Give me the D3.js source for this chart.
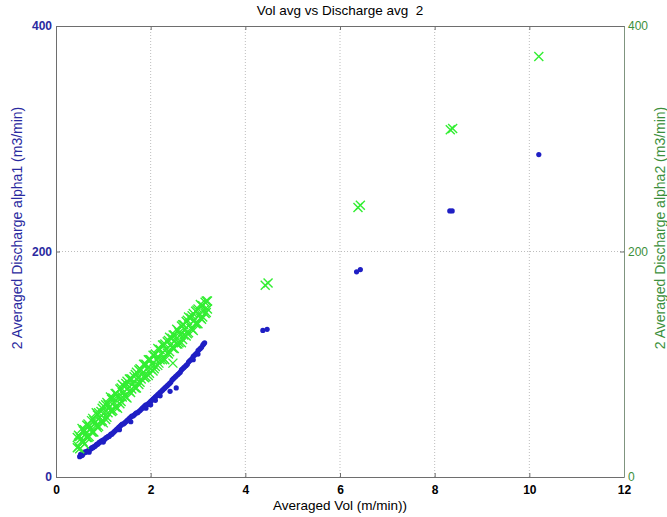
<!DOCTYPE html>
<html>
<head>
<meta charset="utf-8">
<script src="https://cdn.jsdelivr.net/npm/d3@7"></script>
<style>
  body { margin: 0; background: #fff; }
  text { font-family: "Liberation Sans", Arial, sans-serif; }
</style>
</head>
<body>
<div id="chart"></div>
<script>
var xTicks = [0, 2, 4, 6, 8, 10, 12];
var yTicks = [0, 200, 400];

// alpha1 (left axis) - blue dots, [vol, discharge]
var alpha1 = [
  [0.50,18],[0.52,20],[0.55,19],[0.58,21],[0.60,22],[0.63,22],[0.66,23],[0.70,24],[0.70,22],[0.73,25],
  [0.76,26],[0.80,27],[0.84,28],[0.88,29],[0.92,31],[0.96,32],[1.00,33],[1.00,31],[1.04,34],[1.08,35],
  [1.12,36],[1.16,38],[1.20,39],[1.25,41],[1.30,43],[1.34,42],[1.35,45],[1.40,47],[1.45,48],[1.50,50],
  [1.55,52],[1.58,49],[1.60,54],[1.65,55],[1.70,57],[1.75,58],[1.80,60],[1.85,62],[1.90,64],[1.90,61],
  [1.95,65],[2.00,67],[2.00,64],[2.05,69],[2.10,71],[2.10,68],[2.15,73],[2.20,75],[2.20,72],[2.25,77],
  [2.30,79],[2.35,81],[2.40,83],[2.41,76],[2.45,86],[2.50,88],[2.54,79],[2.55,90],[2.60,92],[2.65,95],
  [2.70,97],[2.75,99],[2.80,102],[2.85,104],[2.90,107],[2.90,104],[2.95,109],[3.00,112],[3.00,109],[3.05,114],
  [3.10,117],[3.14,119],
  [0.515,19],[0.565,20],[0.615,22],[0.68,23],[0.745,25],[0.78,26],[0.82,27],[0.86,29],[0.90,30],[0.94,31],
  [0.98,32],[1.02,33],[1.06,35],[1.10,36],[1.14,37],[1.18,38],[1.225,40],[1.275,42],[1.325,44],[1.375,46],
  [1.425,47],[1.475,49],[1.525,51],[1.575,53],[1.625,54],[1.675,56],[1.725,57],[1.775,59],[1.825,61],[1.875,63],
  [1.925,64],[1.975,66],[2.025,68],[2.075,70],[2.125,72],[2.175,74],[2.225,76],[2.275,78],[2.325,80],[2.375,82],
  [2.425,84],[2.475,87],[2.525,89],[2.575,91],[2.625,93],[2.675,96],[2.725,98],[2.775,100],[2.825,103],[2.875,105],
  [2.925,108],[2.975,110],[3.025,113],[3.075,115],[3.12,118],
  [4.37,130],[4.46,131],[6.35,182],[6.43,184],[8.32,236],[8.37,236],[10.20,286]
];

// alpha2 (right axis) - green crosses, [vol, discharge]
var alpha2 = [
  [0.45,35],[0.45,26],[0.50,36],[0.50,25],[0.55,43],[0.55,32],[0.60,42],[0.60,29],[0.65,46],[0.65,35],
  [0.70,45],[0.70,36],[0.75,50],[0.75,40],[0.80,50],[0.80,40],[0.85,57],[0.85,46],[0.90,57],[0.90,45],
  [0.95,58],[0.95,49],[1.00,63],[1.00,48],[1.05,64],[1.05,51],[1.10,64],[1.10,57],[1.15,71],[1.15,59],
  [1.20,70],[1.20,59],[1.25,74],[1.25,62],[1.30,72],[1.30,61],[1.35,78],[1.35,65],[1.40,82],[1.40,71],
  [1.45,80],[1.45,72],[1.50,85],[1.50,70],[1.55,87],[1.55,76],[1.60,87],[1.60,78],[1.65,89],[1.65,80],
  [1.70,93],[1.70,79],[1.75,95],[1.75,82],[1.80,95],[1.80,87],[1.85,100],[1.85,89],[1.90,100],[1.90,89],
  [1.95,104],[1.95,90],[2.00,104],[2.00,96],[2.05,108],[2.05,94],[2.10,109],[2.10,98],[2.15,114],[2.15,99],
  [2.20,113],[2.20,104],[2.25,117],[2.25,104],[2.30,118],[2.30,104],[2.35,120],[2.35,110],[2.40,124],[2.40,111],
  [2.45,123],[2.45,115],[2.50,126],[2.50,114],[2.55,131],[2.55,118],[2.60,128],[2.60,119],[2.65,134],[2.65,119],
  [2.70,135],[2.70,126],[2.75,138],[2.75,125],[2.80,142],[2.80,128],[2.85,141],[2.85,132],[2.90,145],[2.90,130],
  [2.95,147],[2.95,136],[3.00,149],[3.00,136],[3.05,153],[3.05,141],[3.10,152],[3.10,142],[3.15,155],[3.15,145],
  [3.20,156],[3.20,149],
  [0.525,34],[0.625,38],[0.725,43],[0.825,48],[0.925,53],[1.025,57],[1.125,62],[1.225,66],[1.325,71],[1.425,75],
  [1.525,79],[1.625,83],[1.725,88],[1.825,92],[1.925,96],[2.025,100],[2.125,104],[2.225,109],[2.325,113],[2.425,117],
  [2.525,122],[2.625,126],[2.725,131],[2.825,135],[2.925,139],[3.025,144],[3.125,148],
  [0.475,37],[0.475,27],[0.575,41],[0.575,31],[0.675,47],[0.675,35],[0.775,52],[0.775,40],[0.875,55],[0.875,44],
  [0.975,61],[0.975,50],[1.075,66],[1.075,53],[1.175,69],[1.175,58],[1.275,74],[1.275,62],[1.375,79],[1.375,67],
  [1.475,83],[1.475,71],[1.575,87],[1.575,75],[1.675,91],[1.675,79],[1.775,96],[1.775,84],[1.875,100],[1.875,88],
  [1.975,104],[1.975,92],[2.075,108],[2.075,96],[2.175,113],[2.175,101],[2.275,117],[2.275,105],[2.375,121],[2.375,109],
  [2.475,126],[2.475,114],[2.575,130],[2.575,118],[2.675,135],[2.675,122],[2.775,139],[2.775,127],[2.875,143],[2.875,131],
  [2.975,148],[2.975,136],[3.075,152],[3.075,140],[3.175,156],[3.175,146],
  [2.47,101],
  [4.42,170],[4.48,172],[6.38,239],[6.43,241],[8.33,308],[8.38,309],[10.20,373]
];

var blueCol = "#1f1fc4",
    greenCol = "#33ee33",
    leftTxt = "#2a2aa0",
    rightTxt = "#3c8f3c";

var margin = {top: 26, right: 43, bottom: 40, left: 56},
    width = 667 - margin.left - margin.right,
    height = 517 - margin.top - margin.bottom;

var svg = d3.select("#chart")
  .append("svg")
    .attr("width", 667)
    .attr("height", 517)
  .append("g")
    .attr("transform", "translate(" + margin.left + "," + margin.top + ")");

var x = d3.scaleLinear().domain([0, 12]).range([0, width]);
var y1 = d3.scaleLinear().domain([0, 400]).range([height, 0]);
var y2 = d3.scaleLinear().domain([0, 400]).range([height, 0]);

// dotted grid
svg.append("g").selectAll("line")
  .data(xTicks.filter(function(d) { return d > 0 && d < 12; }))
  .enter().append("line")
    .attr("x1", function(d) { return x(d); })
    .attr("x2", function(d) { return x(d); })
    .attr("y1", 0).attr("y2", height)
    .attr("stroke", "#bdbdbd")
    .attr("stroke-dasharray", "1,2");

svg.append("g").selectAll("line")
  .data(yTicks.filter(function(d) { return d > 0 && d < 400; }))
  .enter().append("line")
    .attr("x1", 0).attr("x2", width)
    .attr("y1", function(d) { return y1(d); })
    .attr("y2", function(d) { return y1(d); })
    .attr("stroke", "#bdbdbd")
    .attr("stroke-dasharray", "1,2");

// x axis
var xAxis = svg.append("g")
  .attr("transform", "translate(0," + height + ")")
  .call(d3.axisBottom(x).tickValues(xTicks).tickSizeInner(-4).tickSizeOuter(0).tickPadding(8));
xAxis.selectAll("text")
  .attr("fill", "#000")
  .style("font-size", "12px")
  .style("font-weight", "bold");

// top border with ticks
svg.append("g")
  .call(d3.axisTop(x).tickValues(xTicks).tickSizeInner(-4).tickSizeOuter(0).tickFormat(""));

// left axis
var yAxisL = svg.append("g")
  .call(d3.axisLeft(y1).tickValues(yTicks).tickSizeInner(-4).tickSizeOuter(0).tickPadding(4));
yAxisL.selectAll("text")
  .attr("fill", leftTxt)
  .style("font-size", "12px")
  .style("font-weight", "bold");

// right axis
var yAxisR = svg.append("g")
  .attr("transform", "translate(" + width + ",0)")
  .call(d3.axisRight(y2).tickValues(yTicks).tickSizeInner(-4).tickSizeOuter(0).tickPadding(4));
yAxisR.selectAll("text")
  .attr("fill", rightTxt)
  .style("font-size", "12px");
yAxisR.select(".domain").attr("stroke", "#7f947f");

svg.selectAll(".domain").filter(function() { return !this.getAttribute("stroke") || this.getAttribute("stroke") == "currentColor"; })
  .attr("stroke", "#6e6e6e");
svg.selectAll(".tick line").attr("stroke", "#6e6e6e");

// alpha1 points
svg.append("g").selectAll("circle")
  .data(alpha1)
  .enter().append("circle")
    .attr("cx", function(d) { return x(d[0]); })
    .attr("cy", function(d) { return y1(d[1]); })
    .attr("r", 2.6)
    .attr("fill", blueCol);

// alpha2 crosses
var cross = "M-4.5,-4.5L4.5,4.5M-4.5,4.5L4.5,-4.5";
svg.append("g").selectAll("path")
  .data(alpha2)
  .enter().append("path")
    .attr("transform", function(d) { return "translate(" + x(d[0]) + "," + y2(d[1]) + ")"; })
    .attr("d", cross)
    .attr("stroke", greenCol)
    .attr("stroke-width", 1.4)
    .attr("fill", "none");

// titles
svg.append("text")
  .attr("x", width / 2).attr("y", -11)
  .attr("text-anchor", "middle")
  .style("font-size", "13.5px")
  .style("white-space", "pre")
  .text("Vol avg vs Discharge avg  2");

svg.append("text")
  .attr("x", width / 2).attr("y", height + 33)
  .attr("text-anchor", "middle")
  .style("font-size", "13.5px")
  .text("Averaged Vol (m/min))");

svg.append("text")
  .attr("transform", "translate(" + (-34) + "," + 202 + ") rotate(-90)")
  .attr("text-anchor", "middle")
  .attr("fill", leftTxt)
  .style("font-size", "14px")
  .text("2 Averaged Discharge alpha1 (m3/min)");

svg.append("text")
  .attr("transform", "translate(" + (width + 41) + "," + 202 + ") rotate(-90)")
  .attr("text-anchor", "middle")
  .attr("fill", rightTxt)
  .style("font-size", "14px")
  .text("2 Averaged Discharge alpha2 (m3/min)");
</script>
</body>
</html>
